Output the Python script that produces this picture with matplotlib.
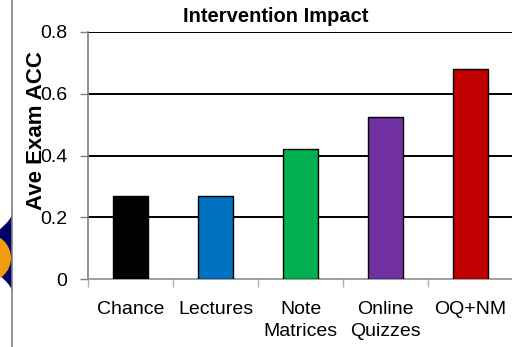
import matplotlib
matplotlib.use("Agg")
import matplotlib.pyplot as plt
import numpy as np
from matplotlib.patches import Circle, Polygon
from matplotlib.lines import Line2D

plt.rcParams['font.family'] = ['Liberation Sans', 'DejaVu Sans']

# Data
categories = ["Chance", "Lectures", "Note\nMatrices", "Online\nQuizzes", "OQ+NM"]
accuracy = [0.27, 0.268, 0.42, 0.525, 0.68]
bar_colors = ["#000000", "#0070C0", "#00B050", "#7030A0", "#C00000"]
y_ticks = [0, 0.2, 0.4, 0.6, 0.8]
y_tick_labels = ["0", "0.2", "0.4", "0.6", "0.8"]

W, H = 512, 347
fig = plt.figure(figsize=(W / 100, H / 100), dpi=100)

ax = fig.add_axes([88 / W, 68 / H, 425 / W, 247 / H])
x = np.arange(len(categories))
ax.bar(x, accuracy, width=0.41, color=bar_colors, edgecolor="black",
       linewidth=1.0, zorder=3)

ax.set_xlim(-0.5, len(categories) - 0.5)
ax.set_ylim(0, 0.8)
ax.set_yticks(y_ticks)
ax.set_yticklabels(y_tick_labels, fontsize=14)
ax.set_xticks(np.arange(len(categories) + 1) - 0.5, minor=False)
ax.set_xticklabels([])
ax.set_xticks(x, minor=True)
ax.set_xticklabels(categories, minor=True, fontsize=14, linespacing=1.35)
ax.tick_params(axis="x", which="minor", length=0, pad=16)
ax.tick_params(axis="x", which="major", length=6, color="#b0b0b0", width=1)
ax.tick_params(axis="y", length=6, color="#808080", width=1, pad=9)

for y in y_ticks[1:]:
    ax.axhline(y, color="black", linewidth=1.4, zorder=1)

for side in ("top", "right"):
    ax.spines[side].set_visible(False)
ax.spines["left"].set_color("#808080")
ax.spines["bottom"].set_color("#909090")
ax.spines["left"].set_linewidth(1.2)
ax.spines["bottom"].set_linewidth(1.2)

fig.text(276 / W, 1 - 16 / H, "Intervention Impact", ha="center", va="center",
         fontsize=14.5, fontweight="bold")
fig.text(37 / W, 1 - 131 / H, "Ave Exam ACC", ha="center", va="center",
         rotation=90, fontsize=16, fontweight="bold")

# Slide decoration on the left edge
ys = np.linspace(213, 292, 40)
xl = 12 - 30 * np.sin(np.pi * (ys - 213) / 79) ** 1.8
pts = [(12, 213)] + list(zip(xl, ys)) + [(12, 292)]
pts = [(px / 100, (H - py) / 100) for px, py in pts]
fig.patches.append(Polygon(pts, closed=True, facecolor="#000066",
                           edgecolor="none", transform=fig.dpi_scale_trans))
fig.patches.append(Circle((-0.13, (H - 258) / 100), 0.24, facecolor="#F39C12",
                          edgecolor="none", transform=fig.dpi_scale_trans))
fig.lines.append(Line2D([12 / W, 12 / W], [0, 1], color="#808080",
                        linewidth=1.2, transform=fig.transFigure))

fig.savefig("out.png", dpi=100)
